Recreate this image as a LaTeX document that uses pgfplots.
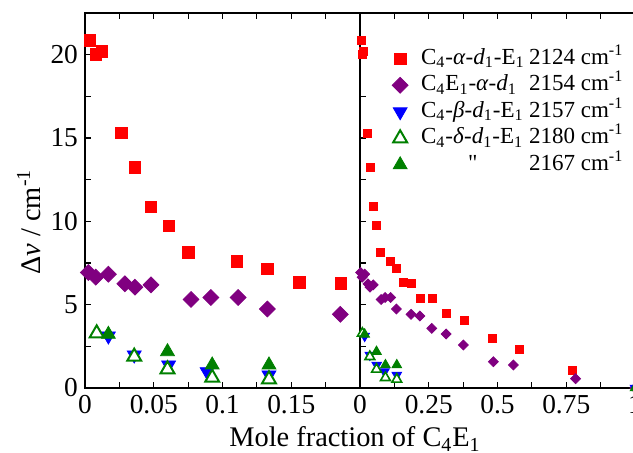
\documentclass[border=0pt]{standalone}
\usepackage{fontspec}
\setmainfont{Liberation Serif}
\usepackage{pgfplots}
\usepackage{pgfplotstable}
\pgfplotsset{compat=1.18}

\definecolor{cred}{RGB}{255,0,0}
\definecolor{cpurple}{RGB}{128,0,128}
\definecolor{cblue}{RGB}{0,0,255}
\definecolor{cgreen}{RGB}{0,128,0}

\newcommand{\ditto}{\XeTeXglyph\XeTeXcharglyph"22\relax}

\pgfplotstableread{
x y
0.0036 20.86
0.0078 20.0
0.0122 20.2
0.0263 15.3
0.0363 13.23
0.048 10.87
0.061 9.73
0.0754 8.15
0.1105 7.59
0.1326 7.15
0.156 6.33
0.186 6.29
0.218 5.35
0.263 5.35
0.313 4.47
0.381 4.04
0.481 3.0
0.578 2.32
0.773 1.06
}\redtab

\pgfplotstableread{
x y
0.0024 6.93
0.0078 6.65
0.017 6.83
0.029 6.25
0.0363 6.05
0.048 6.19
0.0771 5.31
0.0915 5.43
0.1114 5.43
0.1326 4.74
0.1857 4.42
0.218 4.32
0.261 3.58
0.313 3.24
0.376 2.58
0.485 1.58
0.558 1.38
0.784 0.56
1.0 0
}\purtab

\pgfplotstableread{
x y
0.017 3.12
0.0358 1.98
0.0608 1.38
0.0888 0.98
0.1338 0.78
1.0 0
}\bluetab

\pgfplotstableread{
x y
0.0085 3.28
0.0358 1.88
0.060 1.12
0.0925 0.62
0.1338 0.52
}\opentab

\pgfplotstableread{
x y
0.017 3.22
0.060 2.18
0.0925 1.38
0.1338 1.38
1.0 0
}\filltab

\pgfplotsset{
  panel/.style={
    scale only axis, width=137.5pt, height=187.5pt,
    ymin=0, ymax=22.5,
    tick align=inside,
    ytick={0,5,10,15,20}, minor ytick={2.5,7.5,12.5,17.5,22.5},
    ytick pos=left,
    xtick pos=both,
    xticklabel pos=lower,
    major tick length=3pt, minor tick length=3pt,
    tick style={black, line width=0.6pt},
    axis line style={line width=0.75pt},
    ticklabel style={font=\fontsize{13.7}{16}\selectfont},
    scaled x ticks=false, scaled y ticks=false,
    clip=false,
  },
}

\begin{document}
\begin{tikzpicture}
\begin{axis}[panel, name=L, at={(0pt,0pt)}, anchor=south west,
  xmin=0, xmax=0.2,
  xtick={0,0.05,0.1,0.15}, xticklabels={0,0.05,0.1,0.15},
  minor xtick={0.025,0.075,0.125,0.175},
  yticklabels={0,5,10,15,20},
  restrict x to domain=0:0.2,
  legend style={at={(1.094,0.925)}, anchor=north west, draw=none, fill=none,
    font=\fontsize{11.5}{13.5}\selectfont, row sep=0pt, column sep=6.5pt,
    nodes={text height=9.25pt, text depth=4pt, inner sep=0pt}},
  legend cell align=left,
]
\addplot[only marks, mark=square*, mark size=2.9pt, color=cred] table {\redtab};
\addlegendentry{\makebox[54pt][l]{C\textsubscript{4}-\textit{α}-\textit{d}\textsubscript{1}-E\textsubscript{1}}2124 cm\textsuperscript{-1}}
\addplot[only marks, mark=square*, mark size=2.8pt, mark options={rotate=45}, color=cpurple] table {\purtab};
\addlegendentry{\makebox[54pt][l]{C\textsubscript{4}E\textsubscript{1}-\textit{α}-\textit{d}\textsubscript{1}}2154 cm\textsuperscript{-1}}
\addplot[only marks, mark=triangle*, mark size=4pt, mark options={rotate=180}, color=cblue] table {\bluetab};
\addlegendentry{\makebox[54pt][l]{C\textsubscript{4}-\textit{β}-\textit{d}\textsubscript{1}-E\textsubscript{1}}2157 cm\textsuperscript{-1}}
\addplot[only marks, mark=triangle*, mark size=4pt, mark options={fill=white, line width=1pt}, color=cgreen] table {\opentab};
\addlegendentry{\makebox[54pt][l]{C\textsubscript{4}-\textit{δ}-\textit{d}\textsubscript{1}-E\textsubscript{1}}2180 cm\textsuperscript{-1}}
\addplot[only marks, mark=triangle*, mark size=4pt, color=cgreen] table {\filltab};
\addlegendentry{\makebox[54pt][l]{\hspace{23.5pt}\ditto}2167 cm\textsuperscript{-1}}
\end{axis}

\begin{axis}[panel, name=R, at={(137.5pt,0pt)}, anchor=south west,
  separate axis lines,
  y axis line style={line width=1.2pt},
  xmin=0, xmax=1,
  xtick={0,0.25,0.5,0.75,1}, xticklabels={0,0.25,0.5,0.75,1},
  minor xtick={0.125,0.375,0.625,0.875},
  yticklabels={},
]
\addplot[only marks, mark=square*, mark size=2pt, color=cred] table {\redtab};
\addplot[only marks, mark=square*, mark size=1.75pt, mark options={rotate=45}, color=cpurple] table {\purtab};
\addplot[only marks, mark=triangle*, mark size=2.8pt, mark options={rotate=180}, color=cblue] table {\bluetab};
\addplot[only marks, mark=triangle*, mark size=2.8pt, mark options={fill=white, line width=0.8pt}, color=cgreen] table {\opentab};
\addplot[only marks, mark=triangle*, mark size=2.8pt, color=cgreen] table {\filltab};
\end{axis}

\node[rotate=90, anchor=west, inner sep=0pt, font=\fontsize{14.2}{17}\selectfont] at (-28pt,56.5pt) {Δ\textit{ν} / cm\textsuperscript{-1}};
\node[anchor=base, font=\fontsize{14.2}{17}\selectfont] at (135pt,-29.5pt) {Mole fraction of C\textsubscript{4}E\textsubscript{1}};

\pgfresetboundingbox
\useasboundingbox (-42.5pt,-32.5pt) rectangle (274pt,194pt);
\end{tikzpicture}
\end{document}
